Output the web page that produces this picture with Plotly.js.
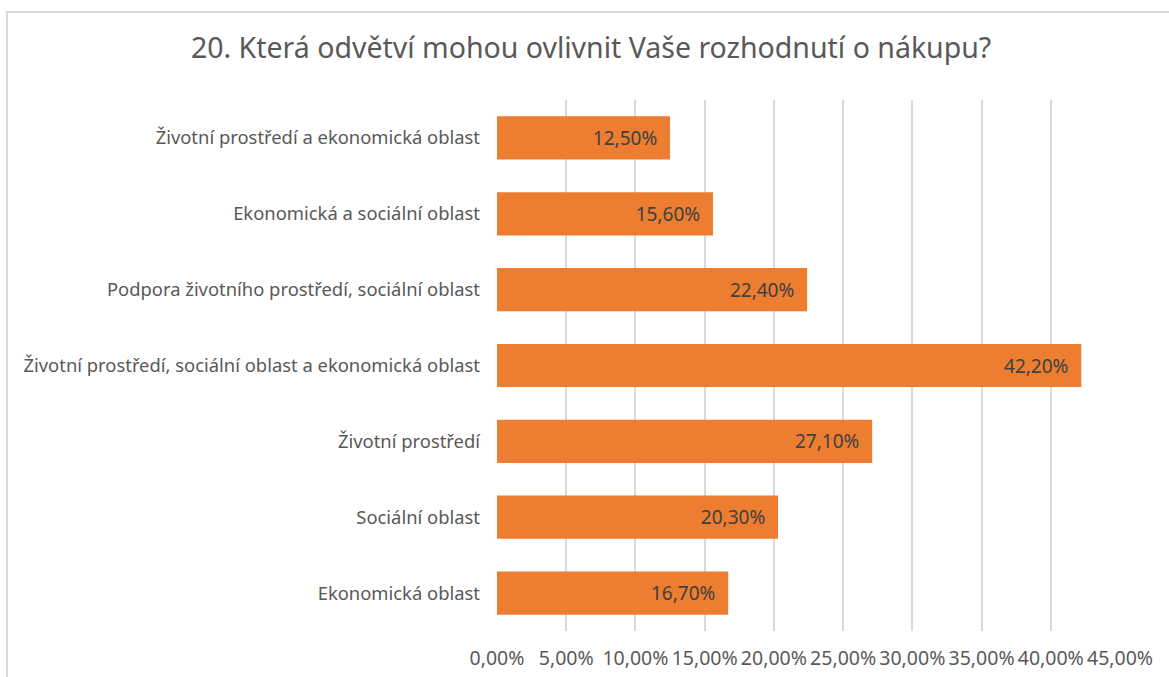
<!DOCTYPE html>
<html><head><meta charset="utf-8">
<script src="https://cdn.plot.ly/plotly-3.0.1.min.js"></script>
<style>
html,body{margin:0;padding:0;background:#fff;}
#wrap{position:relative;width:1169px;height:677px;}
#chart{width:1169px;height:677px;}
#frame{position:absolute;left:6px;top:11px;width:1200px;height:700px;border-left:2px solid #d9d9d9;border-top:2px solid #d9d9d9;pointer-events:none;}
</style></head>
<body>
<div id="wrap"><div id="chart"></div><div id="frame"></div></div>
<script>
const categories = [
  "Životní prostředí a ekonomická oblast",
  "Ekonomická a sociální oblast",
  "Podpora životního prostředí, sociální oblast",
  "Životní prostředí, sociální oblast a ekonomická oblast",
  "Životní prostředí",
  "Sociální oblast",
  "Ekonomická oblast"
];
const values = [12.5, 15.6, 22.4, 42.2, 27.1, 20.3, 16.7];
const tickValues = [0, 5, 10, 15, 20, 25, 30, 35, 40, 45];
const chartTitle = "20. Která odvětví mohou ovlivnit Vaše rozhodnutí o nákupu?";

const fmt = v => v.toFixed(2).replace('.', ',') + '%';
const FONT = "Noto Sans";

Plotly.newPlot('chart', [{
  type: 'bar',
  orientation: 'h',
  y: categories,
  x: values,
  marker: {color: '#ED7D31'},
  text: values.map(v => fmt(v) + '\u00a0\u00a0'),
  textposition: 'inside',
  insidetextanchor: 'end',
  textangle: 0,
  insidetextfont: {family: FONT, size: 19, color: '#404040'},
  hoverinfo: 'none',
  cliponaxis: false
}], {
  width: 1169, height: 677,
  margin: {l: 497, r: 49, t: 100, b: 46},
  paper_bgcolor: '#fff', plot_bgcolor: '#fff',
  separators: ', ',
  bargap: 0.43,
  showlegend: false,
  title: {text: chartTitle, font: {family: FONT, size: 28.5, color: '#595959'},
          xref: 'paper', x: 0.151, xanchor: 'center', yref: 'container', y: 1 - 48/677, yanchor: 'middle'},
  xaxis: {range: [0, 45], tickvals: tickValues, ticktext: tickValues.map(fmt),
          showgrid: true, gridcolor: '#d9d9d9', gridwidth: 2, zeroline: false,
          showline: false, ticks: '', ticklabelstandoff: 13,
          tickfont: {family: FONT, size: 19.5, color: '#595959'}, fixedrange: true},
  yaxis: {autorange: 'reversed', type: 'category', showgrid: false, zeroline: false,
          showline: false, ticks: '', ticklabelstandoff: 16,
          tickfont: {family: FONT, size: 18.4, color: '#595959'}, fixedrange: true}
}, {staticPlot: true});
</script>
</body></html>
